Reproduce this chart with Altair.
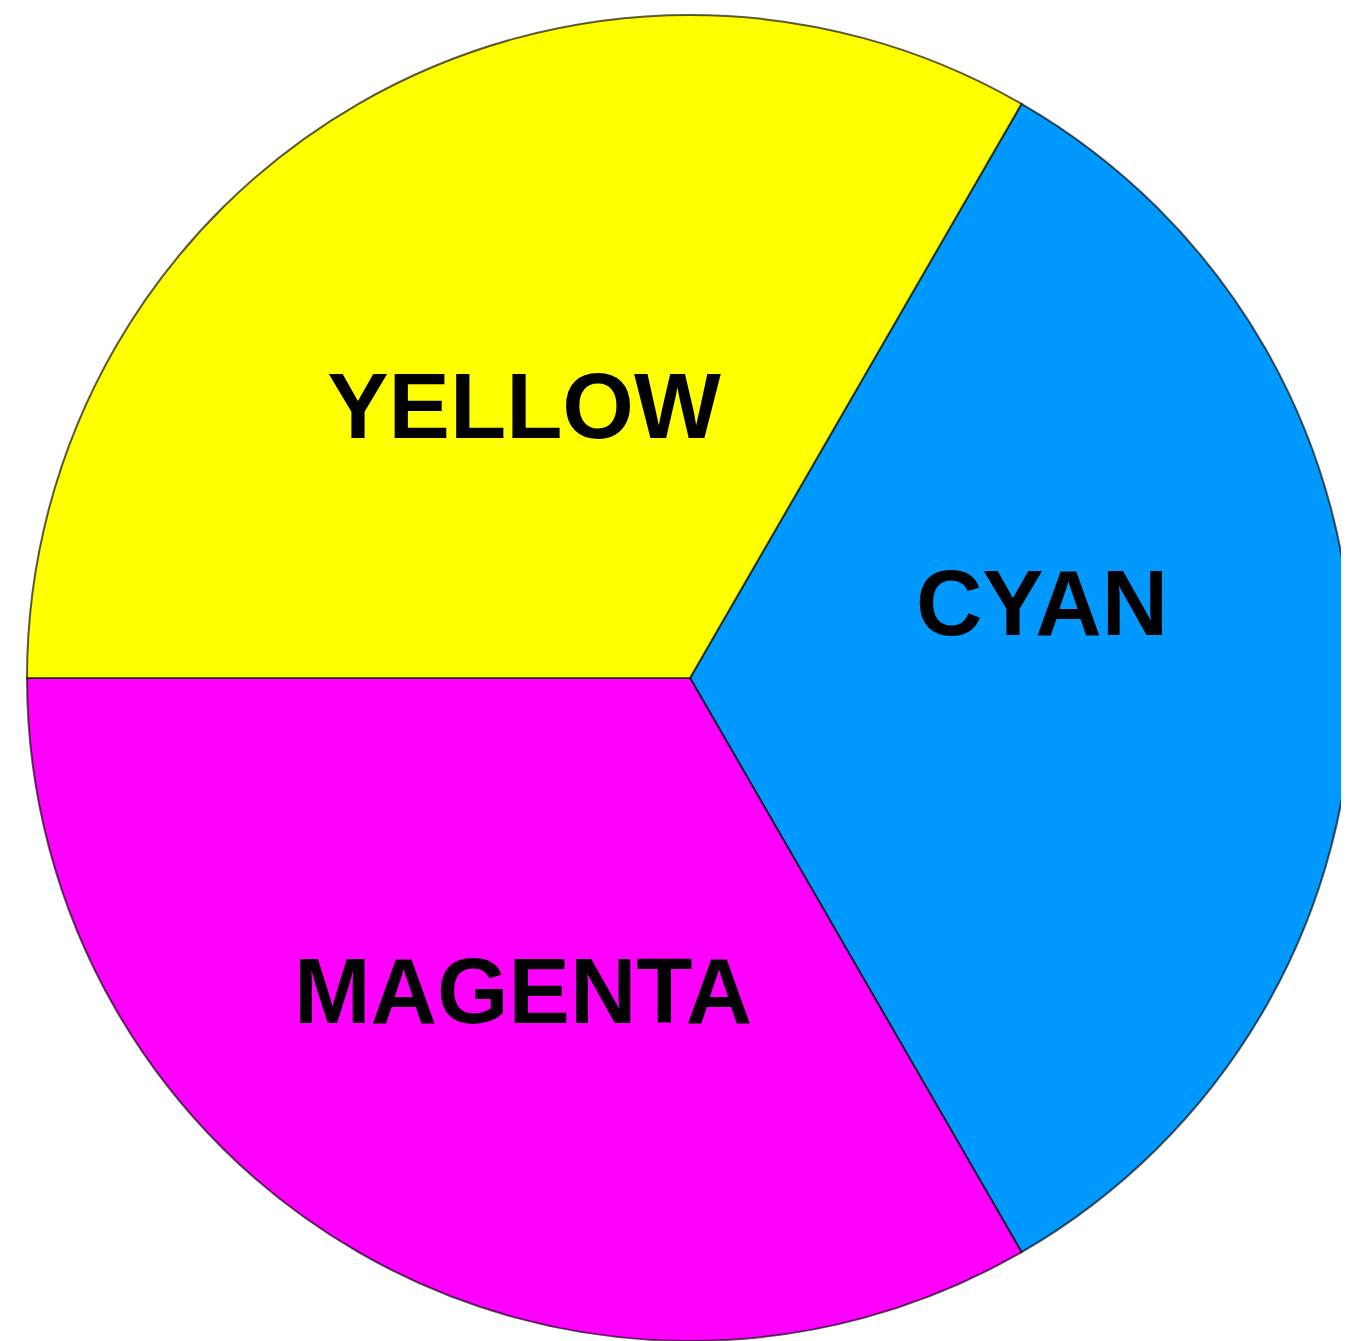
import altair as alt
import pandas as pd
import math

categories = ["CYAN", "MAGENTA", "YELLOW"]
values = [1, 1, 1]
colors = ["#0099FF", "#FF00FF", "#FFFF00"]

df = pd.DataFrame({"name": categories, "value": values, "order": [0, 1, 2]})

start = math.pi / 6
total = sum(values)
theta_scale = alt.Scale(domain=[0, total], range=[start, start + 2 * math.pi])

pie = alt.Chart(df).mark_arc(outerRadius=663, stroke="#000000", strokeOpacity=0.65, strokeWidth=2).encode(
    theta=alt.Theta("value:Q", stack=True, scale=alt.Scale(range=[start, start + 2 * math.pi])),
    order=alt.Order("order:Q"),
    color=alt.Color("name:N", scale=alt.Scale(domain=categories, range=colors), legend=None),
    x=alt.value(682),
    y=alt.value(670),
)

def label(name, r, dx, dy):
    return alt.Chart(df).transform_stack(
        stack="value", groupby=[], as_=["v0", "v1"], sort=[alt.SortField("order")]
    ).transform_calculate(
        mid="(datum.v0 + datum.v1) / 2"
    ).transform_filter(
        alt.datum.name == name
    ).mark_text(
        radius=r, fontSize=92, fontWeight="bold", font="Liberation Sans, Arial, Helvetica, sans-serif",
        color="black", baseline="middle", align="center", dx=dx, dy=dy,
    ).encode(
        theta=alt.Theta("mid:Q", stack=None, scale=theta_scale),
        text="name:N", x=alt.value(682), y=alt.value(670)
    )

chart = alt.layer(
    pie,
    label("CYAN", 350, 2, -71),
    label("MAGENTA", 350, 8, 14),
    label("YELLOW", 320, -6, 9),
).resolve_scale(theta="independent").properties(
    width=1333, height=1333, padding=0, autosize=alt.AutoSizeParams(type="none")
).configure_view(stroke=None)

chart.save("out.html", embed_options={"renderer": "svg", "actions": False})
